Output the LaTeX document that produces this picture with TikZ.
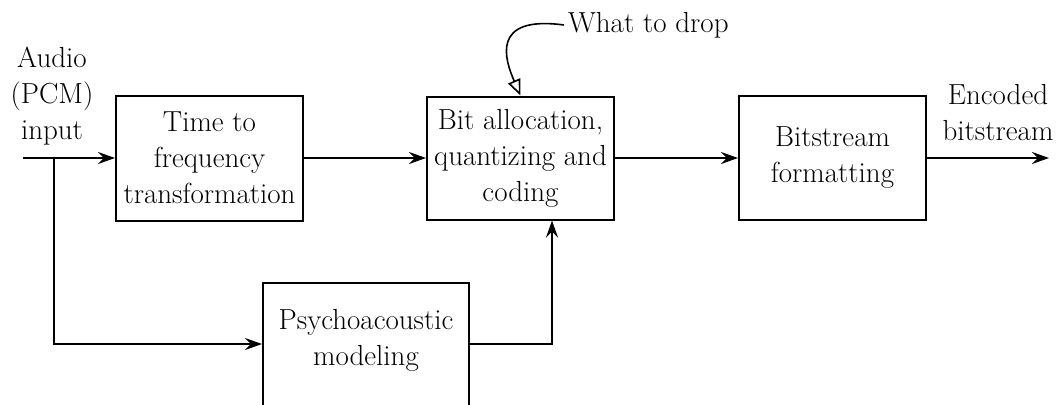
\documentclass[tikz,border=0pt]{standalone}
\usepackage{fontspec}
\usetikzlibrary{arrows.meta,calc}
\begin{document}
\begin{tikzpicture}[x=1pt,y=1pt,
  box/.style={draw, line width=2pt, align=center, inner sep=0pt},
  lbl/.style={align=center, inner sep=0pt},
  flow/.style={line width=2pt, -{Stealth[length=17pt,width=12pt,inset=6pt]}},
  every node/.append style={font=\rmfamily\fontsize{29}{36}\selectfont}]
\useasboundingbox (0,0) rectangle (1056,-404);
\clip (0,0) rectangle (1056,-404);
\node[box, minimum width=187, minimum height=125] (tf) at (209.5,-158) {Time to\\frequency\\transformation};
\node[box, minimum width=187, minimum height=123] (ba) at (520.5,-158) {Bit allocation,\\quantizing and\\coding};
\node[box, minimum width=187, minimum height=124] (bf) at (832.5,-158) {Bitstream\\formatting};
\node[box, minimum width=206, minimum height=160, anchor=north] (psy) at (366,-282) {};
\node[lbl] (psyt) at (366,-340) {Psychoacoustic\\modeling};
\node[lbl] (in) at (52,-96) {Audio\\(PCM)\\input};
\node[lbl] (out) at (998,-113) {Encoded\\bitstream};
\node[lbl, anchor=west] (drop) at (568,-25) {What to drop};
\coordinate (src) at (23,-158);
\coordinate (split) at (54,-158);
\coordinate (sink) at (1049,-158);
\coordinate (psyy) at (0,-344);
\coordinate (baIn) at (552,0);
\draw[flow] (src) -- (tf.west);
\draw[flow] (tf.east) -- (ba.west);
\draw[flow] (ba.east) -- (bf.west);
\draw[flow] (bf.east) -- (sink);
\draw[flow] (split) |- (psy.west |- psyy);
\draw[flow] (psy.east |- psyy) -| (ba.south -| baIn);
\draw[line width=1.6pt, -{Triangle[open,length=16pt,width=13pt]}] ([xshift=-4pt]drop.west) .. controls (490,-15) and (505,-60) .. (ba.north);
\end{tikzpicture}
\end{document}
